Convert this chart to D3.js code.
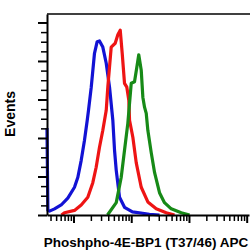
<!DOCTYPE html>
<html>
<head>
<meta charset="utf-8">
<script src="https://cdn.jsdelivr.net/npm/d3@7"></script>
<style>
  body { margin: 0; background: #fff; }
  svg { display: block; }
</style>
</head>
<body>
<div id="chart"></div>
<script>
// fluorescence intensity (log axis) and event counts
const blueX = [3.47, 3.6, 3.84, 4.69, 6.12, 7.97, 10.4, 11.9, 13.6, 15.5, 17.3, 18.2, 20.3, 23.1, 25.7, 28.2, 32.2, 36.9, 42.1, 48.0, 51.4, 55.0, 62.7, 76.5, 105, 207, 309];
const blueY = [113, 6, 5, 8, 13, 22, 36, 49, 71, 97, 123, 136, 166, 210, 225, 226, 218, 197, 166, 123, 84, 58, 23, 10, 4, 1, 0];

const redX = [6.2, 6.98, 10.4, 13.6, 17.7, 21.6, 24.7, 28.2, 32.2, 36.9, 39.3, 45.0, 52.8, 58.6, 64.5, 69.8, 76.5, 83.9, 90.8, 93.5, 106.7, 122, 149, 194, 271, 404, 562];
const redY = [0, 3, 6, 13, 23, 42, 62, 88, 110, 136, 166, 218, 223, 234, 240, 210, 171, 166, 149, 123, 101, 68, 36, 17, 8, 3, 0];

const greenX = [38.8, 55.0, 67.1, 76.5, 87.3, 100, 114, 125, 135, 149, 159, 170, 182, 194, 222, 254, 309, 377, 493, 736, 1023];
const greenY = [0, 16, 49, 84, 119, 171, 173, 192, 208, 188, 153, 140, 132, 110, 81, 55, 29, 16, 8, 3, 0];

const yMajor = [0, 50, 100, 150, 200, 250];
const xMajor = [10, 100, 1000, 10000];

const series = [
  { name: "blue", color: "#1212d4", x: blueX, y: blueY },
  { name: "red", color: "#ee1414", x: redX, y: redY },
  { name: "green", color: "#178a17", x: greenX, y: greenY }
];

const width = 250, height = 250;
const margin = { left: 47, right: 249, top: 14, bottom: 215 };

const svg = d3.select("#chart").append("svg")
  .attr("width", width)
  .attr("height", height);

const x = d3.scaleLog()
  .domain([Math.pow(10, 0.541), Math.pow(10, 4.04)])
  .range([margin.left, margin.right]);

const y = d3.scaleLinear()
  .domain([0, 261])
  .range([margin.bottom, margin.top]);

// minor ticks
const yMinor = d3.range(0, 250.1, 12.5).filter(v => v % 50 !== 0);
const xMinor = [];
[1, 10, 100, 1000].forEach(dec => {
  for (let k = 2; k <= 9; k++) {
    const v = dec * k;
    if (v >= x.domain()[0] && v <= x.domain()[1]) xMinor.push(v);
  }
});

// curves
const line = d3.line()
  .x(d => x(d[0]))
  .y(d => y(d[1]));

series.forEach(s => {
  svg.append("path")
    .datum(s.x.map((v, i) => [v, s.y[i]]))
    .attr("fill", "none")
    .attr("stroke", s.color)
    .attr("stroke-width", 3.2)
    .attr("stroke-linejoin", "round")
    .attr("d", line);
});

// y axis
svg.append("g")
  .attr("transform", `translate(${margin.left},0)`)
  .call(d3.axisLeft(y).tickValues(yMinor).tickSize(6).tickFormat(""))
  .call(g => g.select(".domain").remove())
  .selectAll("line").attr("stroke-width", 1.5);

svg.append("g")
  .attr("transform", `translate(${margin.left},0)`)
  .call(d3.axisLeft(y).tickValues(yMajor).tickSize(9).tickSizeOuter(0).tickFormat(""))
  .call(g => g.select(".domain").attr("stroke-width", 2))
  .selectAll("line").attr("stroke-width", 2);

// x axis
svg.append("g")
  .attr("transform", `translate(0,${margin.bottom})`)
  .call(d3.axisBottom(x).tickValues(xMinor).tickSize(6).tickFormat(""))
  .call(g => g.select(".domain").remove())
  .selectAll("line").attr("stroke-width", 1.5);

svg.append("g")
  .attr("transform", `translate(0,${margin.bottom})`)
  .call(d3.axisBottom(x).tickValues(xMajor).tickSize(8).tickSizeOuter(0).tickFormat(""))
  .call(g => g.select(".domain").attr("stroke-width", 2))
  .selectAll("line").attr("stroke-width", 2);

// top border
svg.append("line")
  .attr("x1", margin.left).attr("x2", width)
  .attr("y1", margin.top).attr("y2", margin.top)
  .attr("stroke", "#000")
  .attr("stroke-width", 1.5);

// labels
svg.append("text")
  .attr("x", 146)
  .attr("y", 246.5)
  .attr("text-anchor", "middle")
  .style("font-family", "'Liberation Sans', Arial, sans-serif")
  .style("font-weight", "bold")
  .style("font-size", "13.5px")
  .text("Phoshpho-4E-BP1 (T37/46) APC");

svg.append("text")
  .attr("transform", "translate(15,114) rotate(-90)")
  .attr("text-anchor", "middle")
  .style("font-family", "'Liberation Sans', Arial, sans-serif")
  .style("font-weight", "bold")
  .style("font-size", "14px")
  .text("Events");
</script>
</body>
</html>
